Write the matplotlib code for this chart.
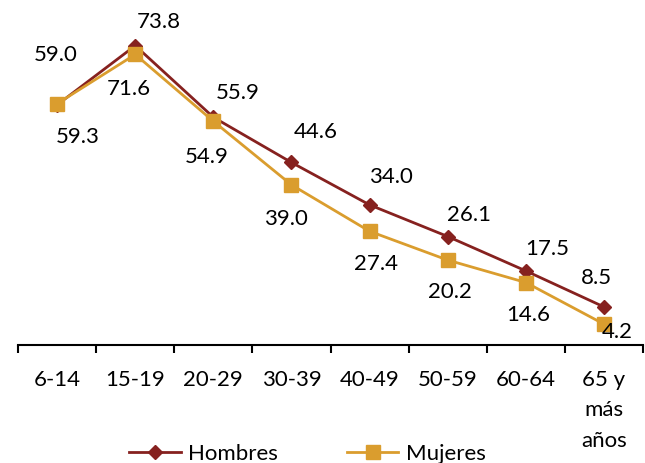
import numpy as np
import matplotlib.pyplot as plt

categorias = ['6-14', '15-19', '20-29', '30-39', '40-49', '50-59', '60-64', '65 y\nmás\naños']
hombres = [59.0, 73.8, 55.9, 44.6, 34.0, 26.1, 17.5, 8.5]
mujeres = [59.3, 71.6, 54.9, 39.0, 27.4, 20.2, 14.6, 4.2]

# label offsets in pixels (dx, dy)
off_h = [(-1, 50), (24, 24), (24, 24), (24, 30), (21, 28), (21, 22), (21, 22), (-8, 29)]
off_m = [(21, -33), (-6, -35), (-7, -36), (-6, -34), (6, -33), (2, -32), (2, -32), (13, -8)]

c_h = '#86211F'
c_m = '#DA9D2E'

plt.rcParams['font.family'] = ['Lato', 'DejaVu Sans']

fig = plt.figure(figsize=(6.45, 4.63), dpi=100)
ax = fig.add_axes([0.028, 0.255, 0.969, 0.70])

x = np.arange(len(categorias))
lh, = ax.plot(x, hombres, color=c_h, lw=2, marker='D', ms=7, label='Hombres')
lm, = ax.plot(x, mujeres, color=c_m, lw=2, marker='s', ms=10, label='Mujeres')

for i in range(len(x)):
    ax.annotate(f'{hombres[i]:.1f}', (x[i], hombres[i]), xytext=off_h[i],
                textcoords='offset pixels', ha='center', va='center', fontsize=16)
    ax.annotate(f'{mujeres[i]:.1f}', (x[i], mujeres[i]), xytext=off_m[i],
                textcoords='offset pixels', ha='center', va='center', fontsize=16)

ax.set_xlim(-0.5, len(x) - 0.5)
ax.set_ylim(-1, 80)
for s in ['top', 'right', 'left']:
    ax.spines[s].set_visible(False)
ax.spines['bottom'].set_position(('data', -1))
ax.spines['bottom'].set_linewidth(1.5)
ax.set_yticks([])
ax.set_xticks(np.arange(-0.5, len(x), 1.0))
ax.set_xticklabels([])
ax.tick_params(axis='x', which='major', length=6, width=1.5, direction='out')
ax.set_xticks(x, minor=True)
ax.set_xticklabels(categorias, minor=True, fontsize=16, linespacing=1.65, va='top')
ax.tick_params(axis='x', which='minor', length=0, pad=18)

fig.legend(handles=[lh, lm], loc='center', bbox_to_anchor=(0.477, 0.02), ncol=2,
           frameon=False, fontsize=16, columnspacing=3.1, handlelength=2.3,
           handletextpad=0.35, borderaxespad=0)

fig.savefig('out.png', dpi=100)
